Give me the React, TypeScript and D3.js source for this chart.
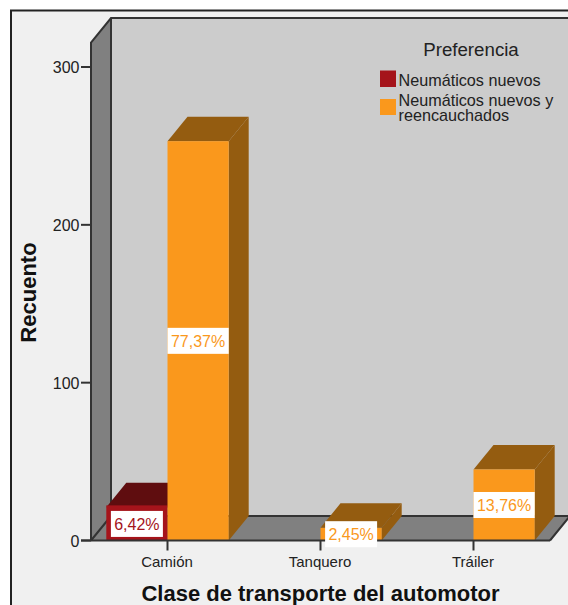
import React from "react";
import * as d3 from "d3";

// Conteos por clase de transporte y preferencia
const categories = ["Camión", "Tanquero", "Tráiler"];
const seriesNames = ["Neumáticos nuevos", "Neumáticos nuevos y reencauchados"];
const nuevos = [21, 0, 0];
const nuevosYReencauchados = [253, 8, 45];
const percentLabelsNuevos = ["6,42%", "", ""];
const percentLabelsMixtos = ["77,37%", "2,45%", "13,76%"];
const yTicks = [0, 100, 200, 300];

const WIDTH = 568;
const HEIGHT = 605;
const DX = 20;
const DY = 24.5;
const SANS = "'Liberation Sans', Arial, sans-serif";
const LINE = "#333333";

const colors = ["#a5141b", "#fa981c"];
const shadeColors = ["#5f0d0f", "#945c10"];

const x = d3.scaleBand<string>().domain(categories).range([91, 550]).paddingInner(0.2).paddingOuter(0.1);
const xInner = d3.scaleBand<string>().domain(seriesNames).range([0, x.bandwidth()]);
const y = d3.scaleLinear().domain([0, 300]).range([540.5, 67]);

const poly = d3.line();

type Bar = { cat: string; si: number; value: number; label: string };

const bars: Bar[] = categories.flatMap((cat, i) => [
  { cat, si: 0, value: nuevos[i], label: percentLabelsNuevos[i] },
  { cat, si: 1, value: nuevosYReencauchados[i], label: percentLabelsMixtos[i] },
]).filter((b) => b.value > 0);

function Bar3D({ bar }: { bar: Bar }) {
  const x0 = x(bar.cat)! + xInner(seriesNames[bar.si])!;
  const w = xInner.bandwidth();
  const y0 = y(0);
  const y1 = y(bar.value);
  const top = poly([[x0, y1], [x0 + DX, y1 - DY], [x0 + w + DX, y1 - DY], [x0 + w, y1]])! + "Z";
  const side = poly([[x0 + w, y1], [x0 + w + DX, y1 - DY], [x0 + w + DX, y0 - DY], [x0 + w, y0]])! + "Z";
  return (
    <g>
      <path d={top} fill={shadeColors[bar.si]} />
      <path d={side} fill={shadeColors[bar.si]} />
      <rect
        x={x0}
        y={bar.si === 0 ? y1 - 2 : y1}
        width={w}
        height={bar.si === 0 ? y0 - y1 + 2 : y0 - y1}
        fill={colors[bar.si]}
      />
    </g>
  );
}

function BarLabel({ bar }: { bar: Bar }) {
  const x0 = x(bar.cat)! + xInner(seriesNames[bar.si])!;
  const w = xInner.bandwidth();
  const mid = (y(0) + y(bar.value)) / 2;
  const boxW = Math.min(w, bar.label.length * 10 + 2);
  const cx = x0 + w / 2;
  return (
    <g>
      <rect x={cx - boxW / 2} y={mid - 13} width={boxW} height={26} fill="#ffffff" />
      <text x={cx} y={mid + 6} textAnchor="middle" fontFamily={SANS} fontSize={16} fill={colors[bar.si]}>
        {bar.label}
      </text>
    </g>
  );
}

export default function App() {
  const front = y(0);
  const wallTop = 42.5;
  const left = x.range()[0];
  const right = x.range()[1];
  return (
    <svg
      width={WIDTH}
      height={HEIGHT}
      viewBox={`0 0 ${WIDTH} ${HEIGHT}`}
      style={{ position: "absolute", left: 0, top: 0, background: "#ffffff" }}
    >
      <rect x={11} y={10.5} width={WIDTH + 20} height={HEIGHT + 20} fill="#f0f0f0" stroke="#222222" strokeWidth={2} />

      {/* Paredes y suelo de la caja 3D */}
      <path
        d={poly([[left + DX, wallTop - DY], [WIDTH + 2, wallTop - DY], [WIDTH + 2, front - DY], [left + DX, front - DY]])! + "Z"}
        fill="#cccccc"
      />
      <path
        d={poly([[left, wallTop], [left + DX, wallTop - DY], [left + DX, front - DY], [left, front]])! + "Z"}
        fill="#808080"
      />
      <path
        d={poly([[left, front], [left + DX, front - DY], [right + DX, front - DY], [right, front]])! + "Z"}
        fill="#808080"
      />
      <path
        d={`M${left},${front}V${wallTop}L${left + DX},${wallTop - DY}H${WIDTH + 2}M${left + DX},${wallTop - DY}V${front - DY}H${WIDTH + 2}M${left + DX},${front - DY}L${left},${front}M${right + DX},${front - DY}L${right},${front}`}
        fill="none"
        stroke={LINE}
        strokeWidth={2}
      />

      {bars.map((b) => (
        <Bar3D key={`${b.cat}-${b.si}`} bar={b} />
      ))}

      {/* Eje inferior */}
      <path d={`M81,${front}H${right}`} stroke={LINE} strokeWidth={2} fill="none" />
      {categories.map((c) => {
        const cx = x(c)! + x.bandwidth() / 2;
        return (
          <g key={c}>
            <line x1={cx} x2={cx} y1={front} y2={front + 10} stroke={LINE} strokeWidth={2} />
            <text x={cx - 0.5} y={567} textAnchor="middle" fontFamily={SANS} fontSize={15} fill="#222222">
              {c}
            </text>
          </g>
        );
      })}

      {/* Eje vertical */}
      {yTicks.map((t) => (
        <g key={t}>
          <line x1={81} x2={left} y1={y(t)} y2={y(t)} stroke={LINE} strokeWidth={2} />
          <text x={79.5} y={y(t) + 6} textAnchor="end" fontFamily={SANS} fontSize={16} fill="#222222">
            {t}
          </text>
        </g>
      ))}

      {bars.map((b) => (
        <BarLabel key={`${b.cat}-${b.si}`} bar={b} />
      ))}

      {/* Leyenda */}
      <text x={471} y={55.5} textAnchor="middle" fontFamily={SANS} fontSize={18.7} fill="#222222">
        Preferencia
      </text>
      <rect x={380} y={70.5} width={16} height={16.5} fill={colors[0]} />
      <text x={398.5} y={86} fontFamily={SANS} fontSize={16.2} fill="#222222">
        {seriesNames[0]}
      </text>
      <rect x={380} y={99} width={16} height={16} fill={colors[1]} />
      <text x={398.5} y={106} fontFamily={SANS} fontSize={16.2} fill="#222222">
        Neumáticos nuevos y
      </text>
      <text x={398.5} y={121} fontFamily={SANS} fontSize={16.2} fill="#222222">
        reencauchados
      </text>

      {/* Títulos de los ejes */}
      <text
        x={320.5}
        y={601}
        textAnchor="middle"
        fontFamily={SANS}
        fontWeight="bold"
        fontSize={22}
        fill="#111111"
      >
        Clase de transporte del automotor
      </text>
      <text
        transform="translate(36,292.5) rotate(-90)"
        textAnchor="middle"
        fontFamily={SANS}
        fontWeight="bold"
        fontSize={22}
        fill="#111111"
      >
        Recuento
      </text>
    </svg>
  );
}
